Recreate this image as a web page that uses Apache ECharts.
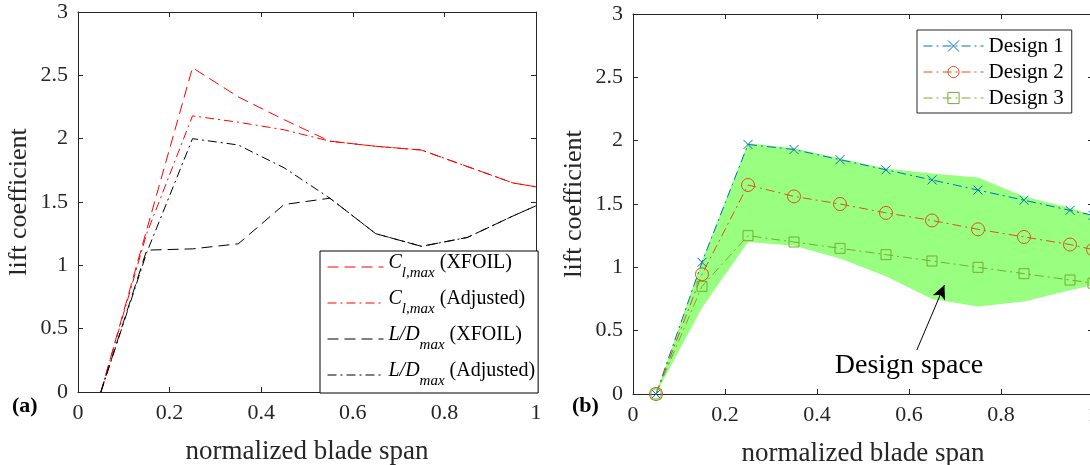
<!DOCTYPE html>
<html><head><meta charset="utf-8">
<script src="https://cdn.jsdelivr.net/npm/echarts@6/dist/echarts.min.js"></script>
<style>html,body{margin:0;padding:0;background:#fff}#c{width:1090px;height:465px}</style>
</head><body><div id="c"></div><script>
// ---- data ----
const spanX = [0.05, 0.15, 0.25, 0.35, 0.45, 0.55, 0.65, 0.75, 0.85, 0.95, 1.0];
const xTicks = [0, 0.2, 0.4, 0.6, 0.8, 1];
const yTicks = [0, 0.5, 1, 1.5, 2, 2.5, 3];
// panel (a)
const clXfoil = [0, 1.28, 2.56, 2.33, 2.15, 1.98, 1.94, 1.91, 1.78, 1.65, 1.62];
const clAdjusted = [0, 1.25, 2.18, 2.13, 2.07, 1.98, 1.94, 1.91, 1.78, 1.65, 1.62];
const ldXfoil = [0, 1.12, 1.13, 1.17, 1.48, 1.53, 1.25, 1.15, 1.22, 1.39, 1.47];
const ldAdjusted = [0, 1.10, 2.00, 1.95, 1.77, 1.53, 1.25, 1.15, 1.22, 1.39, 1.47];
// panel (b)
const design1 = [0, 1.04, 1.97, 1.93, 1.85, 1.77, 1.69, 1.61, 1.53, 1.45, 1.41];
const design2 = [0, 0.945, 1.65, 1.56, 1.50, 1.43, 1.37, 1.30, 1.24, 1.18, 1.14];
const design3 = [0, 0.85, 1.25, 1.20, 1.15, 1.10, 1.05, 1.00, 0.95, 0.90, 0.875];
const spaceUpper = [0, 1.05, 1.98, 1.94, 1.86, 1.78, 1.74, 1.71, 1.56, 1.47, 1.41];
const spaceLower = [0, 0.68, 1.20, 1.17, 1.07, 0.93, 0.75, 0.69, 0.73, 0.82, 0.86];
const namesA = ['Cl,max (XFOIL)', 'Cl,max (Adjusted)', 'L/Dmax (XFOIL)', 'L/Dmax (Adjusted)'];
const namesB = ['Design 1', 'Design 2', 'Design 3'];
const xTitle = 'normalized blade span';
const yTitle = 'lift coefficient';

// ---- styles ----
const FONT = 'Liberation Serif';
const AX = '#262626';
const C1 = '#0072BD', C2 = '#D95319', C3 = '#77AC30';
const DASH = [11, 6], DASHDOT = [9, 4, 2, 4];
const pairs = arr => spanX.map((x, i) => [x, arr[i]]);

function xAx(grid, pos, labels) {
  return {
    type: 'value', gridIndex: grid, position: pos, min: xTicks[0], max: xTicks[xTicks.length - 1],
    interval: xTicks[1] - xTicks[0],
    axisLine: { show: true, onZero: false, lineStyle: { color: AX, width: 1 } },
    axisTick: { show: true, inside: true, length: 5, lineStyle: { color: AX } },
    splitLine: { show: false },
    axisLabel: { show: labels, fontFamily: FONT, fontSize: 22, color: AX, margin: 10 },
    name: labels ? xTitle : '', nameLocation: 'middle', nameGap: 46,
    nameTextStyle: { fontFamily: FONT, fontSize: 27, color: AX }
  };
}
function yAx(grid, pos, labels) {
  return {
    type: 'value', gridIndex: grid, position: pos, min: yTicks[0], max: yTicks[yTicks.length - 1],
    interval: yTicks[1] - yTicks[0],
    axisLine: { show: true, onZero: false, lineStyle: { color: AX, width: 1 } },
    axisTick: { show: true, inside: true, length: 5, lineStyle: { color: AX } },
    splitLine: { show: false },
    axisLabel: { show: labels, fontFamily: FONT, fontSize: 22, color: AX, margin: 10 },
    name: labels ? yTitle : '', nameLocation: 'middle', nameGap: 46,
    nameTextStyle: { fontFamily: FONT, fontSize: 26, color: AX }
  };
}
function lineA(name, data, color, type) {
  return {
    type: 'line', name, xAxisIndex: 0, yAxisIndex: 0, data: pairs(data),
    symbol: 'none', color, lineStyle: { color, width: 1, type }, z: 3, animation: false
  };
}
function lineB(name, data, color, symbol, size) {
  return {
    type: 'line', name, xAxisIndex: 2, yAxisIndex: 2, data: pairs(data),
    symbol, symbolSize: size, showAllSymbol: true, color,
    lineStyle: { color, width: 1, type: DASHDOT },
    itemStyle: { color: 'rgba(0,0,0,0)', borderColor: color, borderWidth: 1 },
    z: 3, animation: false
  };
}
const richA = {
  i: { fontFamily: FONT, fontStyle: 'italic', fontSize: 20, verticalAlign: 'top', color: '#000' },
  s: { fontFamily: FONT, fontStyle: 'italic', fontSize: 15, verticalAlign: 'bottom', color: '#000' },
  t: { fontFamily: FONT, fontSize: 20, verticalAlign: 'top', color: '#000' }
};
function fmtA(n) {
  const m = n.match(/^(Cl|L\/D)(,max|max) (.*)$/);
  if (m[1] === 'Cl') return '{i|C}{s|l,max} {t|' + m[3] + '}';
  return '{i|L/D}{s|max} {t|' + m[3] + '}';
}

const option = {
  backgroundColor: '#fff',
  animation: false,
  grid: [
    { left: 78, top: 12, width: 458, height: 380, outerBoundsMode: 'none', containLabel: false },
    { left: 633, top: 14, width: 460, height: 380, outerBoundsMode: 'none', containLabel: false }
  ],
  xAxis: [xAx(0, 'bottom', true), xAx(0, 'top', false), xAx(1, 'bottom', true), xAx(1, 'top', false)],
  yAxis: [yAx(0, 'left', true), yAx(0, 'right', false), yAx(1, 'left', true), yAx(1, 'right', false)],
  legend: [
    {
      data: namesA, orient: 'vertical', left: 320, top: 251,
      itemWidth: 56, itemHeight: 28, itemGap: 8, padding: [2, 3, 4, 7],
      backgroundColor: '#fff', borderColor: '#000', borderWidth: 1, borderRadius: 0,
      selectedMode: false, formatter: fmtA,
      itemStyle: { opacity: 0 }, lineStyle: { width: 1, type: 'inherit' },
      textStyle: { fontFamily: FONT, fontSize: 20, lineHeight: 28, color: '#000', rich: richA }
    },
    {
      data: namesB, orient: 'vertical', left: 917, top: 30,
      itemWidth: 60, itemHeight: 14, itemGap: 4, padding: [5, 8, 4, 6],
      backgroundColor: '#fff', borderColor: '#262626', borderWidth: 1, borderRadius: 0,
      selectedMode: false,
      itemStyle: { color: 'rgba(0,0,0,0)', borderWidth: 1 }, lineStyle: { width: 1, type: 'inherit' },
      textStyle: { fontFamily: FONT, fontSize: 21, lineHeight: 22, color: '#000' }
    }
  ],
  graphic: [
    { type: 'text', left: 12, top: 395, style: { text: '(a)', font: 'bold 22px "Liberation Serif"', fill: '#000' } },
    { type: 'text', left: 572, top: 395, style: { text: '(b)', font: 'bold 22px "Liberation Serif"', fill: '#000' } }
  ],
  series: [
    lineA(namesA[0], clXfoil, '#ff0000', DASH),
    lineA(namesA[1], clAdjusted, '#ff0000', DASHDOT),
    lineA(namesA[2], ldXfoil, '#000000', DASH),
    lineA(namesA[3], ldAdjusted, '#000000', DASHDOT),
    {
      type: 'custom', xAxisIndex: 2, yAxisIndex: 2, data: [[0.5, 1]], silent: true, z: 1, clip: false,
      renderItem: function (params, api) {
        const top = spaceUpper.map((v, i) => api.coord([spanX[i], v]));
        const bot = spaceLower.map((v, i) => api.coord([spanX[i], v])).reverse();
        return { type: 'polygon', shape: { points: top.concat(bot) }, style: { fill: '#99ff80', stroke: null } };
      }
    },
    lineB(namesB[0], design1, C1, 'path://M0,0L10,10M10,0L0,10', 9),
    lineB(namesB[1], design2, C2, 'circle', 13),
    Object.assign(lineB(namesB[2], design3, C3, 'rect', 10), {
      markLine: {
        silent: true, symbol: ['none', 'arrow'], symbolSize: [10, 14],
        lineStyle: { color: '#000', width: 1, type: 'solid' }, label: { show: false },
        data: [[{ coord: [0.617, 0.347] }, { coord: [0.677, 0.86] }]]
      },
      markPoint: {
        silent: true, symbol: 'circle', symbolSize: 0,
        label: { show: true, position: 'inside', formatter: 'Design space', fontFamily: FONT, fontSize: 28, color: '#000' },
        data: [{ coord: [0.6, 0.221] }]
      }
    })
  ]
};
const chart = echarts.init(document.getElementById('c'), null, { renderer: 'canvas' });
chart.setOption(option);
</script></body></html>
